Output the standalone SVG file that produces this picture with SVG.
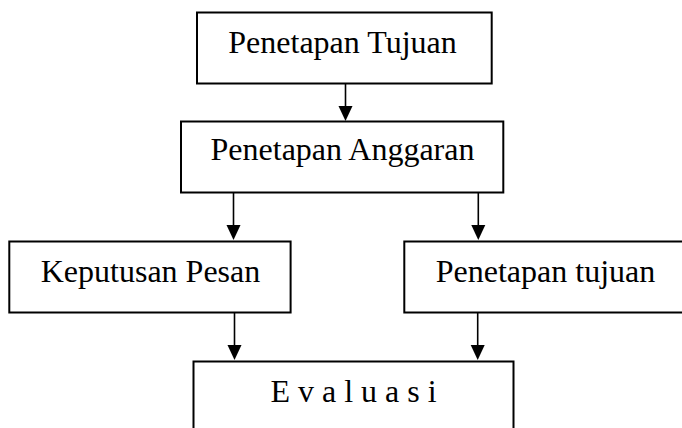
<svg xmlns="http://www.w3.org/2000/svg" width="682" height="428" viewBox="0 0 682 428">
<style>
.box{fill:#fff;stroke:#000;stroke-width:2}
.t{font-family:"Liberation Serif","Times New Roman",serif;font-size:32px;fill:#000;text-anchor:middle}
.c line{stroke:#000;stroke-width:1.6}
.c polygon{fill:#000}
</style>
<rect width="682" height="428" fill="#fff"/>
<g class="c" id="connectors">
<line x1="345.5" y1="83" x2="345.5" y2="108"/>
<polygon points="338.5,106 352.5,106 345.5,121"/>
<line x1="233.5" y1="192" x2="233.5" y2="227"/>
<polygon points="226.5,225 240.5,225 233.5,240"/>
<line x1="478.3" y1="192" x2="478.3" y2="227"/>
<polygon points="471.3,225 485.3,225 478.3,240"/>
<line x1="234.5" y1="312" x2="234.5" y2="347"/>
<polygon points="227.5,345 241.5,345 234.5,360"/>
<line x1="477.7" y1="312" x2="477.7" y2="347"/>
<polygon points="470.7,345 484.7,345 477.7,360"/>
</g>
<g id="n1"><rect class="box" x="197" y="12.5" width="294.7" height="71"/><text class="t" x="342.5" y="53">Penetapan Tujuan</text></g>
<g id="n2"><rect class="box" x="181" y="121.5" width="322.3" height="71"/><text class="t" x="342.5" y="160">Penetapan Anggaran</text></g>
<g id="n3"><rect class="box" x="9.3" y="241.5" width="281.3" height="71"/><text class="t" x="150.5" y="282">Keputusan Pesan</text></g>
<g id="n4"><rect class="box" x="404.3" y="241.5" width="290" height="71"/><text class="t" x="545.5" y="282">Penetapan tujuan</text></g>
<g id="n5"><rect class="box" x="193.5" y="361.5" width="320" height="100"/><text class="t" x="353.5" y="401.5">E v a l u a s i</text></g>
</svg>
